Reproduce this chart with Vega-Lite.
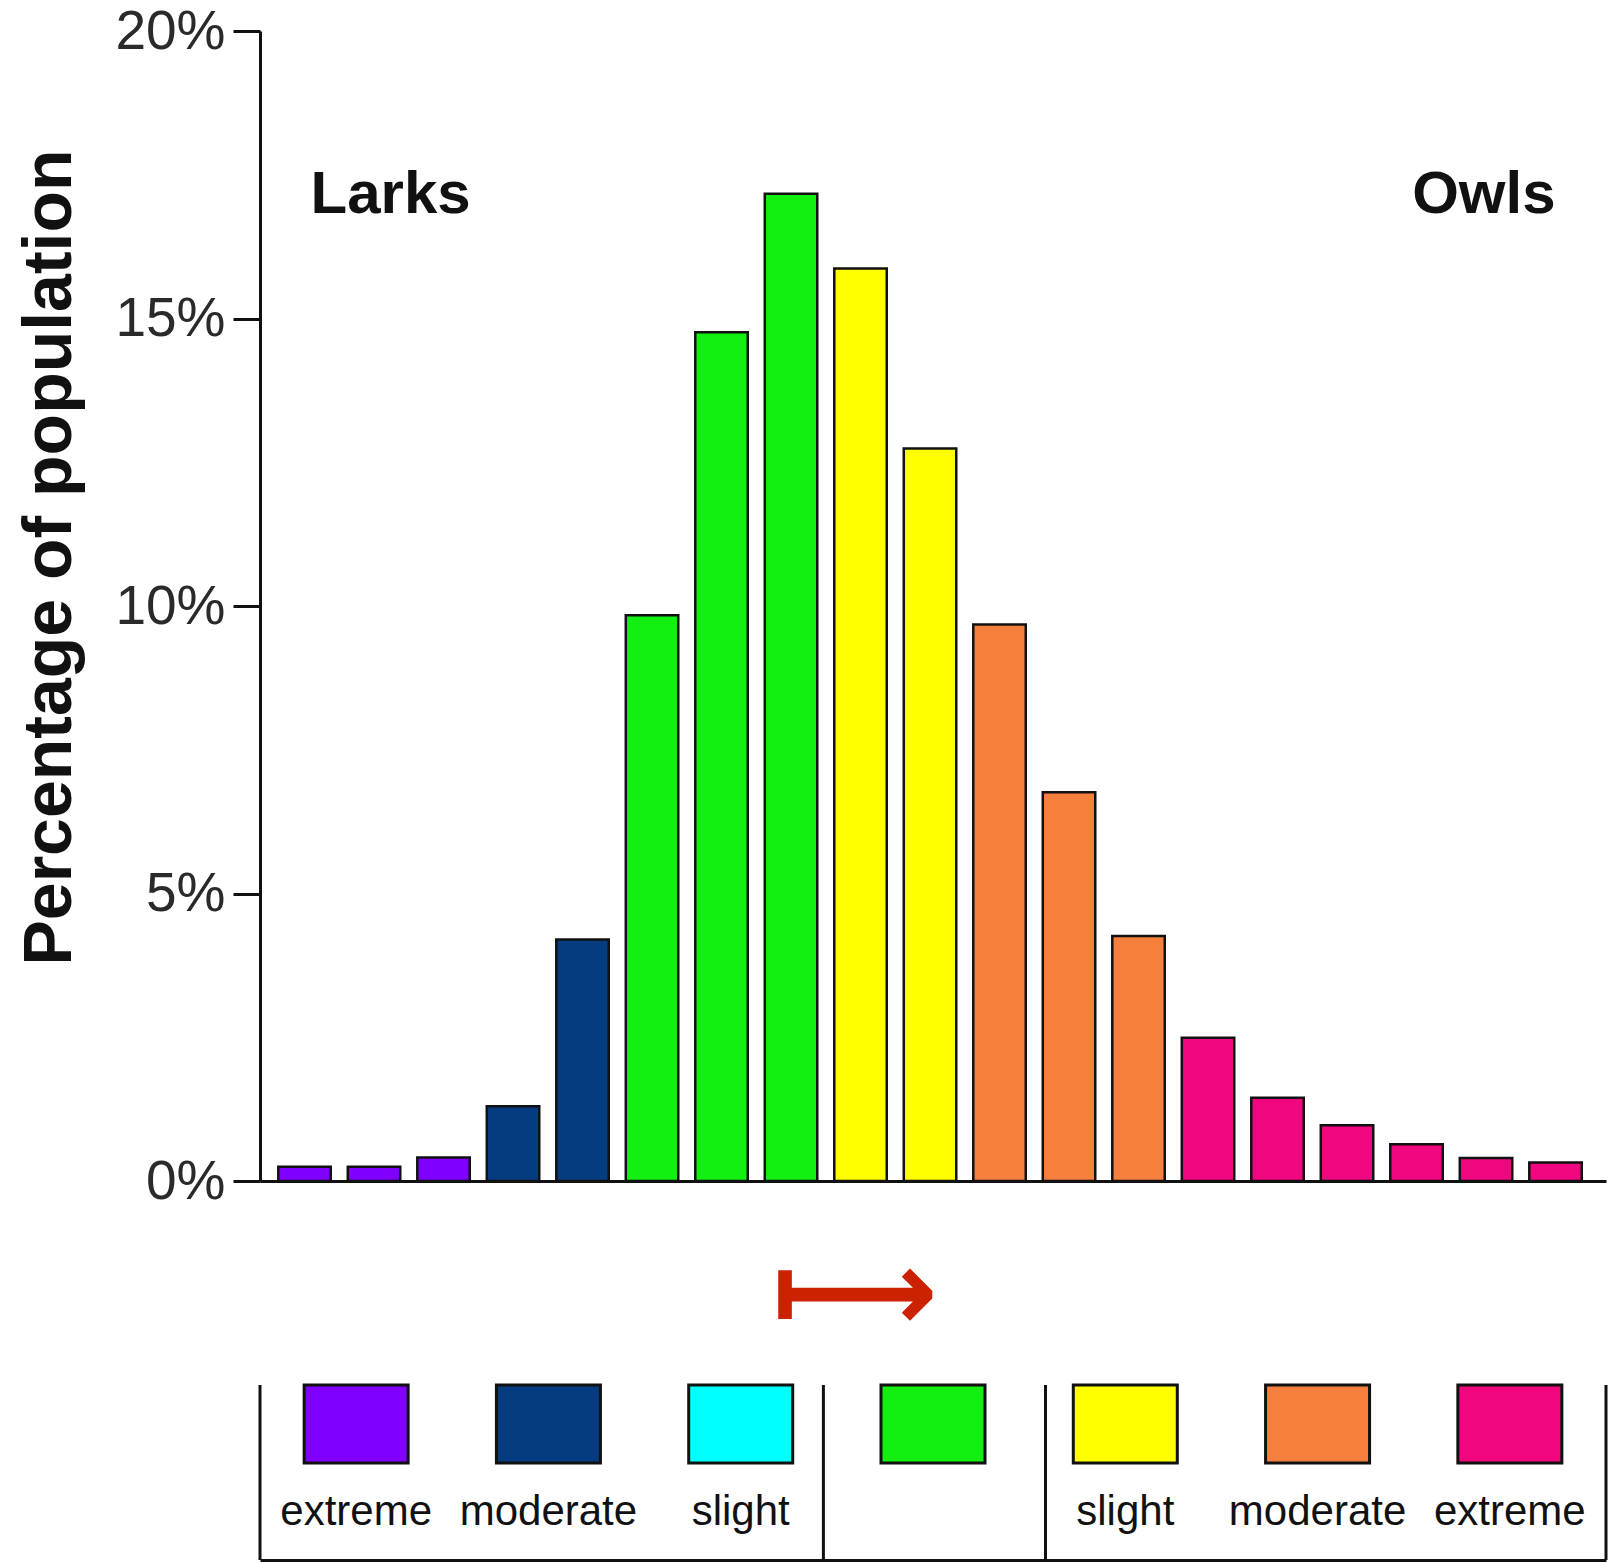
{
  "$schema": "https://vega.github.io/schema/vega-lite/v6.json",
  "background": "white",
  "padding": {"left": 16, "top": 4, "right": 6, "bottom": 2},
  "spacing": 0,
  "config": {"view": {"stroke": null}, "font": "Liberation Sans"},
  "datasets": {
    "bars": [
      {"bin": 1, "share": 0.0025, "group": "Larks extreme"},
      {"bin": 2, "share": 0.0025, "group": "Larks extreme"},
      {"bin": 3, "share": 0.0041, "group": "Larks extreme"},
      {"bin": 4, "share": 0.0130, "group": "Larks moderate"},
      {"bin": 5, "share": 0.0420, "group": "Larks moderate"},
      {"bin": 6, "share": 0.0984, "group": "Neither"},
      {"bin": 7, "share": 0.1476, "group": "Neither"},
      {"bin": 8, "share": 0.1717, "group": "Neither"},
      {"bin": 9, "share": 0.1587, "group": "Owls slight"},
      {"bin": 10, "share": 0.1274, "group": "Owls slight"},
      {"bin": 11, "share": 0.0968, "group": "Owls moderate"},
      {"bin": 12, "share": 0.0676, "group": "Owls moderate"},
      {"bin": 13, "share": 0.0426, "group": "Owls moderate"},
      {"bin": 14, "share": 0.0249, "group": "Owls extreme"},
      {"bin": 15, "share": 0.0145, "group": "Owls extreme"},
      {"bin": 16, "share": 0.0097, "group": "Owls extreme"},
      {"bin": 17, "share": 0.0064, "group": "Owls extreme"},
      {"bin": 18, "share": 0.0040, "group": "Owls extreme"},
      {"bin": 19, "share": 0.0032, "group": "Owls extreme"}
    ],
    "notes": [
      {"bin": 1, "text": "Larks"},
      {"bin": 19, "text": "Owls"}
    ],
    "legend": [
      {"group": "Larks extreme", "label": "extreme"},
      {"group": "Larks moderate", "label": "moderate"},
      {"group": "Larks slight", "label": "slight"},
      {"group": "Neither", "label": ""},
      {"group": "Owls slight", "label": "slight"},
      {"group": "Owls moderate", "label": "moderate"},
      {"group": "Owls extreme", "label": "extreme"}
    ],
    "arrow": [
      {"group": "Neither", "symbol": "⟼"}
    ]
  },
  "vconcat": [
    {
      "width": 1346,
      "height": 1150,
      "layer": [
        {
          "data": {"name": "bars"},
          "mark": {"type": "bar", "stroke": "#111111", "strokeWidth": 2.5},
          "encoding": {
            "x": {
              "field": "bin", "type": "ordinal",
              "scale": {"paddingInner": 0.245, "paddingOuter": 0.306, "align": 0.43},
              "axis": {"domain": true, "domainColor": "#111111", "domainWidth": 3, "ticks": false, "labels": false, "title": null, "grid": false, "minExtent": 0, "maxExtent": 0}
            },
            "y": {
              "field": "share", "type": "quantitative",
              "scale": {"domain": [0, 0.2], "nice": false},
              "axis": {
                "values": [0, 0.05, 0.1, 0.15, 0.2], "format": ".0%", "grid": false,
                "title": "Percentage of population",
                "titleFont": "Liberation Sans", "titleFontSize": 68, "titleFontWeight": "bold", "titleColor": "#111111", "titlePadding": 30, "titleY": 526,
                "domainColor": "#111111", "domainWidth": 3,
                "tickColor": "#111111", "tickWidth": 3, "tickSize": 27,
                "labelFont": "Liberation Sans", "labelFontSize": 55, "labelColor": "#2a2a2a", "labelPadding": 8
              }
            },
            "color": {
              "field": "group", "type": "nominal",
              "scale": {
                "domain": ["Larks extreme", "Larks moderate", "Larks slight", "Neither", "Owls slight", "Owls moderate", "Owls extreme"],
                "range": ["#8000ff", "#053c80", "#00ffff", "#12f012", "#ffff00", "#f5803e", "#f0077f"]
              },
              "legend": null
            }
          }
        },
        {
          "data": {"name": "notes"},
          "transform": [{"filter": {"field": "text", "equal": "Larks"}}],
          "mark": {"type": "text", "font": "Liberation Sans", "fontSize": 60, "fontWeight": "bold", "color": "#111111", "baseline": "middle", "align": "left", "dx": 6},
          "encoding": {
            "x": {"field": "bin", "type": "ordinal"},
            "y": {"datum": 0.1715},
            "text": {"field": "text"}
          }
        },
        {
          "data": {"name": "notes"},
          "transform": [{"filter": {"field": "text", "equal": "Owls"}}],
          "mark": {"type": "text", "font": "Liberation Sans", "fontSize": 60, "fontWeight": "bold", "color": "#111111", "baseline": "middle", "align": "right", "dx": 0},
          "encoding": {
            "x": {"field": "bin", "type": "ordinal"},
            "y": {"datum": 0.1715},
            "text": {"field": "text"}
          }
        }
      ]
    },
    {
      "width": 1346,
      "height": 169,
      "data": {"name": "arrow"},
      "mark": {"type": "text", "font": "DejaVu Sans", "fontSize": 116, "fontWeight": "bold", "color": "#cc2200", "align": "right", "baseline": "middle", "dy": 2, "dx": 5},
      "encoding": {
        "x": {
          "field": "group", "type": "nominal",
          "scale": {"domain": ["Larks extreme", "Larks moderate", "Larks slight", "Neither", "Owls slight", "Owls moderate", "Owls extreme"], "paddingInner": 0, "paddingOuter": 0},
          "axis": null
        },
        "text": {"field": "symbol"}
      }
    },
    {
      "width": 1346,
      "height": 175,
      "data": {"name": "legend"},
      "encoding": {
        "x": {
          "field": "group", "type": "nominal",
          "scale": {"domain": ["Larks extreme", "Larks moderate", "Larks slight", "Neither", "Owls slight", "Owls moderate", "Owls extreme"], "paddingInner": 0, "paddingOuter": 0},
          "axis": {"domain": true, "domainColor": "#111111", "domainWidth": 3, "ticks": false, "labels": false, "title": null, "grid": false, "minExtent": 0, "maxExtent": 0}
        }
      },
      "layer": [
        {
          "mark": {"type": "point", "shape": "M-1,-0.75L1,-0.75L1,0.75L-1,0.75Z", "size": 10816, "filled": true, "opacity": 1, "stroke": "#111111", "strokeWidth": 3},
          "encoding": {
            "y": {"datum": "swatch", "type": "nominal", "scale": {"type": "point", "domain": ["swatch", "label"], "padding": 0.494, "align": 0.448}, "axis": null},
            "color": {"field": "group", "type": "nominal", "legend": null}
          }
        },
        {
          "mark": {"type": "text", "font": "Liberation Sans", "fontSize": 42, "color": "#111111", "baseline": "middle"},
          "encoding": {
            "y": {"datum": "label", "type": "nominal"},
            "text": {"field": "label"}
          }
        },
        {
          "transform": [{"filter": {"field": "group", "equal": "Larks extreme"}}],
          "mark": {"type": "rule", "stroke": "#111111", "strokeWidth": 3},
          "encoding": {"x": {"field": "group", "type": "nominal", "bandPosition": 0}}
        },
        {
          "transform": [{"filter": {"field": "group", "equal": "Larks slight"}}],
          "mark": {"type": "rule", "stroke": "#111111", "strokeWidth": 3},
          "encoding": {"x": {"field": "group", "type": "nominal", "bandPosition": 0.93}}
        },
        {
          "transform": [{"filter": {"field": "group", "equal": "Neither"}}],
          "mark": {"type": "rule", "stroke": "#111111", "strokeWidth": 3},
          "encoding": {"x": {"field": "group", "type": "nominal", "bandPosition": 1.085}}
        },
        {
          "transform": [{"filter": {"field": "group", "equal": "Owls extreme"}}],
          "mark": {"type": "rule", "stroke": "#111111", "strokeWidth": 3},
          "encoding": {"x": {"field": "group", "type": "nominal", "bandPosition": 1}}
        }
      ]
    }
  ]
}
